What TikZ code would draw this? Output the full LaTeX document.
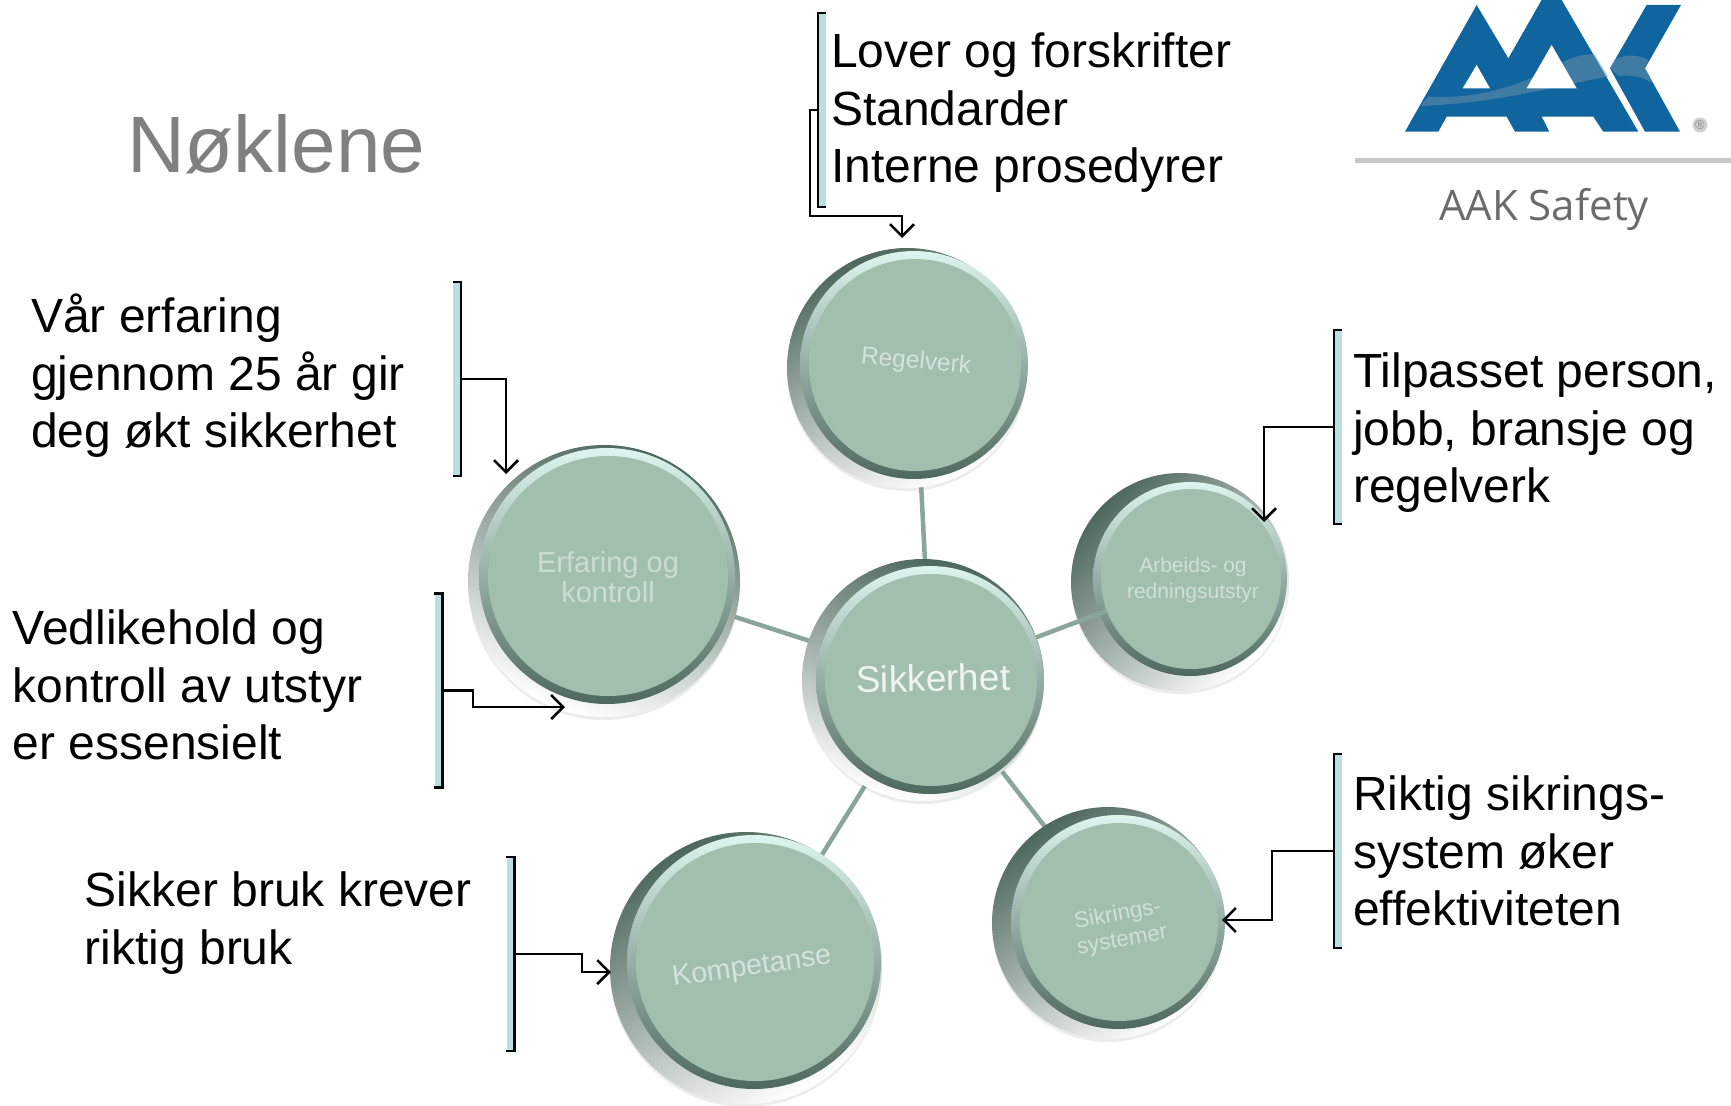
\documentclass[tikz,border=0pt]{standalone}
\usepackage{fontspec}
\setmainfont{Liberation Sans}
\newfontfamily\logofont{Open Sans}
\usetikzlibrary{arrows.meta,shadows,backgrounds}
\definecolor{facegreen}{HTML}{A2BFAE}
\definecolor{darkrim}{HTML}{4E685D}
\definecolor{lightrim}{HTML}{DDF5EE}
\definecolor{spoke}{HTML}{8AA69A}
\definecolor{barblue}{HTML}{B9DEE3}
\definecolor{logoblue}{HTML}{10659F}
\tikzset{
  >={Straight Barb[length=12pt,width=24pt,line width=2.5pt]},
  ringball/.style={circle,inner sep=0pt,minimum size=#1,top color=darkrim,middle color=lightrim,bottom color=white,
    drop shadow={opacity=.15,shadow xshift=0pt,shadow yshift=-3pt}},
  rimball/.style={circle,inner sep=0pt,minimum size=#1,top color=lightrim,bottom color=darkrim},
  faceball/.style={circle,inner sep=0pt,minimum size=#1,fill=facegreen},
  balltext/.style={inner sep=0pt,align=center,text=#1},
  notetext/.style={anchor=west,inner sep=0pt,align=left,font=\fontsize{48}{57.5}\selectfont},
  notebar/.style={fill=barblue,inner sep=0pt,minimum width=8pt,minimum height=194pt},
  link/.style={line width=2.5pt},
  spokeline/.style={spoke,line width=4.5pt}
}
\begin{document}
\begin{tikzpicture}[x=1pt,y=-1pt]
\useasboundingbox (0,0) rectangle (1731,1105);
\node[anchor=west,inner sep=0pt,text=black!50,font=\fontsize{80}{90}\selectfont] (title) at (127,144) {Nøklene};

% logo
\begin{scope}[shift={(1300,0)},x=0.3333pt,y=-0.3333pt]
\fill[logoblue] (315,395) -- (530,15) -- (625,175) -- (725,0) -- (785,0) -- (1015,395) -- (910,395)
  -- (880,350) -- (725,350) -- (748,395) -- (645,395) -- (620,350) -- (440,350) -- (415,395) -- cycle;
\fill[logoblue] (1040,15) -- (1143,15) -- (1035,205) -- (1140,395) -- (1035,395) -- (930,205) -- cycle;
\fill[logoblue!45!gray!75!white,opacity=.45] (385,290) .. controls (560,300) and (700,240) .. (800,180)
  .. controls (840,165) and (870,160) .. (885,165) -- (925,230) .. controls (800,250) and (600,310) .. (360,318) -- cycle;
\fill[logoblue!45!gray!75!white,opacity=.45] (945,180) .. controls (975,160) and (1020,165) .. (1045,180) -- (1035,205) -- (1060,250) .. controls (1020,225) and (980,225) .. (955,228) -- (930,205) -- cycle;
\fill[white] (530,195) -- (570,265) -- (488,265) -- cycle;
\fill[white] (755,135) -- (830,265) -- (680,265) -- cycle;
\end{scope}
\node[circle,fill=black!18,inner sep=0pt,minimum size=15pt,text=black!45,font=\fontsize{13}{13}\selectfont] (regmark) at (1700,125) {®};
\draw[black!22,line width=5pt] (1355,160) -- (1731,160);
\node[inner sep=0pt,text=black!58,font=\logofont\fontsize{42}{42}\selectfont] (logotext) at (1544,209) {AAK Safety};

% balls
\node[ringball=242pt,shading angle=-15] (sik) at (923,680) {};
\node[rimball=228pt] (sikrim) at (930,680) {};
\node[faceball=212pt] (sikface) at (931,680) {};
\node[balltext=white!82!facegreen,rotate=1,font=\fontsize{37}{37}\selectfont] (siktext) at (933,678) {Sikkerhet};

\node[ringball=240pt,shading angle=25] (reg) at (907,368) {};
\node[rimball=228pt] (regrim) at (914,365) {};
\node[faceball=212pt] (regface) at (915,365) {};
\node[balltext=white!55!facegreen,rotate=-5,font=\fontsize{24.5}{26}\selectfont] (regtext) at (916,362) {Regelverk};

\node[ringball=272pt,shading angle=-20] (erf) at (604,581) {};
\node[rimball=256pt] (erfrim) at (607,576) {};
\node[faceball=240pt] (erfface) at (608,576) {};
\node[balltext=white!45!facegreen,font=\fontsize{29}{30}\selectfont] (erftext) at (608,577) {Erfaring og\\kontroll};

\node[ringball=218pt,shading angle=45] (arb) at (1180,582) {};
\node[rimball=194pt] (arbrim) at (1190,579) {};
\node[faceball=180pt] (arbface) at (1191,579) {};
\node[balltext=white!50!facegreen,font=\fontsize{21}{26}\selectfont] (arbtext) at (1193,580) {Arbeids- og\\redningsutstyr};

\node[ringball=232pt,shading angle=35] (syst) at (1108,923) {};
\node[rimball=214pt] (systrim) at (1118,922) {};
\node[faceball=198pt] (systface) at (1119,922) {};
\node[balltext=white!50!facegreen,rotate=10,font=\fontsize{22.5}{26}\selectfont] (systtext) at (1120,928) {Sikrings-\\systemer};

\node[ringball=272pt,shading angle=30] (komp) at (746,968) {};
\node[rimball=254pt] (komprim) at (754,962) {};
\node[faceball=238pt] (kompface) at (755,962) {};
\node[balltext=white!55!facegreen,rotate=8,font=\fontsize{28.5}{30}\selectfont] (komptext) at (752,968) {Kompetanse};

% spokes
\begin{scope}[on background layer]
\draw[spokeline] (sikface) -- (regface);
\draw[spokeline] (sikface) -- (erfface);
\draw[spokeline] (sikface) -- (systface);
\draw[spokeline] (sikface) -- (kompface);
\end{scope}
\draw[spokeline] (sik) -- (arbface);

% notes
\node[notetext] (lover) at (831,113) {Lover og forskrifter\\Standarder\\Interne prosedyrer};
\node[notetext] (vaar) at (31,376) {Vår erfaring\\gjennom 25 år gir\\deg økt sikkerhet};
\node[notetext] (vedl) at (12.5,685) {Vedlikehold og\\kontroll av utstyr\\er essensielt};
\node[notetext] (bruk) at (84.5,923) {Sikker bruk krever\\riktig bruk};
\node[notetext] (tilp) at (1353,433) {Tilpasset person,\\jobb, bransje og\\regelverk};
\node[notetext] (rikt) at (1353,851) {Riktig sikrings-\\system øker\\effektiviteten};

\node[notebar] (loverbar) at (822,110) {};
\node[notebar] (vaarbar) at (457,379) {};
\node[notebar] (vedlbar) at (438.5,690.5) {};
\node[notebar] (brukbar) at (510.5,954) {};
\node[notebar] (tilpbar) at (1338,427) {};
\node[notebar] (riktbar) at (1338,851) {};

\draw[link] (loverbar.north east) -- (loverbar.north west) -- (loverbar.south west) -- (loverbar.south east);
\draw[link] (tilpbar.north east) -- (tilpbar.north west) -- (tilpbar.south west) -- (tilpbar.south east);
\draw[link] (riktbar.north east) -- (riktbar.north west) -- (riktbar.south west) -- (riktbar.south east);
\draw[link] (vaarbar.north west) -- (vaarbar.north east) -- (vaarbar.south east) -- (vaarbar.south west);
\draw[link] (vedlbar.north west) -- (vedlbar.north east) -- (vedlbar.south east) -- (vedlbar.south west);
\draw[link] (brukbar.north west) -- (brukbar.north east) -- (brukbar.south east) -- (brukbar.south west);

% arrow ends
\coordinate (regend) at (902,238);
\coordinate (erfendtop) at (506,474);
\coordinate (erfendlow) at (565,707);
\coordinate (kompend) at (611,972);
\coordinate (arbend) at (1264,522);
\coordinate (systend) at (1222,920);

\draw[link,->] (loverbar.west) -- (810,110) -- (810,216) -- (902,216) -- (regend);
\draw[link,->] (vaarbar.east) -- (506,379) -- (erfendtop);
\draw[link,->] (vedlbar.east) -- (473,690.5) -- (473,707) -- (erfendlow);
\draw[link,->] (brukbar.east) -- (582,954) -- (582,972) -- (kompend);
\draw[link,->] (tilpbar.west) -- (1264,427) -- (arbend);
\draw[link,->] (riktbar.west) -- (1272,851) -- (1272,920) -- (systend);
\end{tikzpicture}
\end{document}
